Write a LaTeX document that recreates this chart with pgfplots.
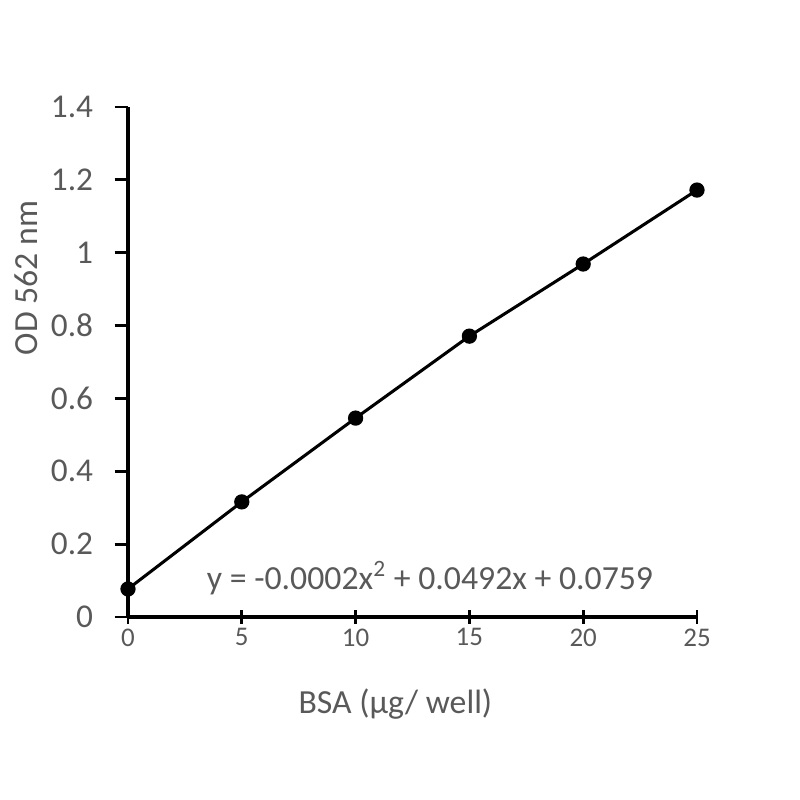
\documentclass[border=0pt]{standalone}
\usepackage{fontspec}
\setmainfont{Carlito}
\usepackage{pgfplots}
\pgfplotsset{compat=1.18}
\definecolor{txt}{HTML}{595959}

\begin{document}
\begin{tikzpicture}[x=1cm,y=1cm]
\begin{axis}[
    name=ax,
    at={(0,0)}, anchor=south west,
    scale only axis,
    width=8.535cm, height=7.65cm,
    xmin=0, xmax=25, ymin=0, ymax=1.4,
    axis lines*=left,
    axis line style={black, line width=1.3pt},
    xtick={0,5,...,25},
    ytick={0,0.2,...,1.4},
    yticklabels={0,0.2,0.4,0.6,0.8,1,1.2,1.4},
    x tick style={black, line width=1.2pt},
    y tick style={black, line width=1.2pt},
    xtick align=center,
    ytick align=outside,
    major tick length=0.2cm,
    /pgf/number format/assume math mode=true,
    tick label style={text=txt},
    yticklabel style={font=\fontsize{14.2}{16}\selectfont, xshift=-0.2cm},
    xticklabel style={font=\fontsize{11.5}{13}\selectfont, yshift=0.05cm},
    xlabel={BSA (µg/ well)},
    ylabel={OD 562 nm},
    label style={text=txt, font=\fontsize{14.4}{16}\selectfont},
    xlabel style={at={(ticklabel cs:0.47)}, yshift=-0.4cm},
    ylabel style={at={(ticklabel cs:0.665)}, yshift=-0.05cm},
    clip=false,
]
\addplot[black, line width=1.3pt, mark=*, mark size=2.6pt]
  coordinates {(0,0.077) (5,0.316) (10,0.546) (15,0.771) (20,0.969) (25,1.172)};
\node[text=txt, font=\fontsize{14.4}{16}\selectfont] at (axis cs:13.27,0.107)
  {y = -0.0002x\textsuperscript{2} + 0.0492x + 0.0759};
\end{axis}
\path[use as bounding box] (-1.92,-2.745) rectangle (10.08,9.255);
\end{tikzpicture}
\end{document}
